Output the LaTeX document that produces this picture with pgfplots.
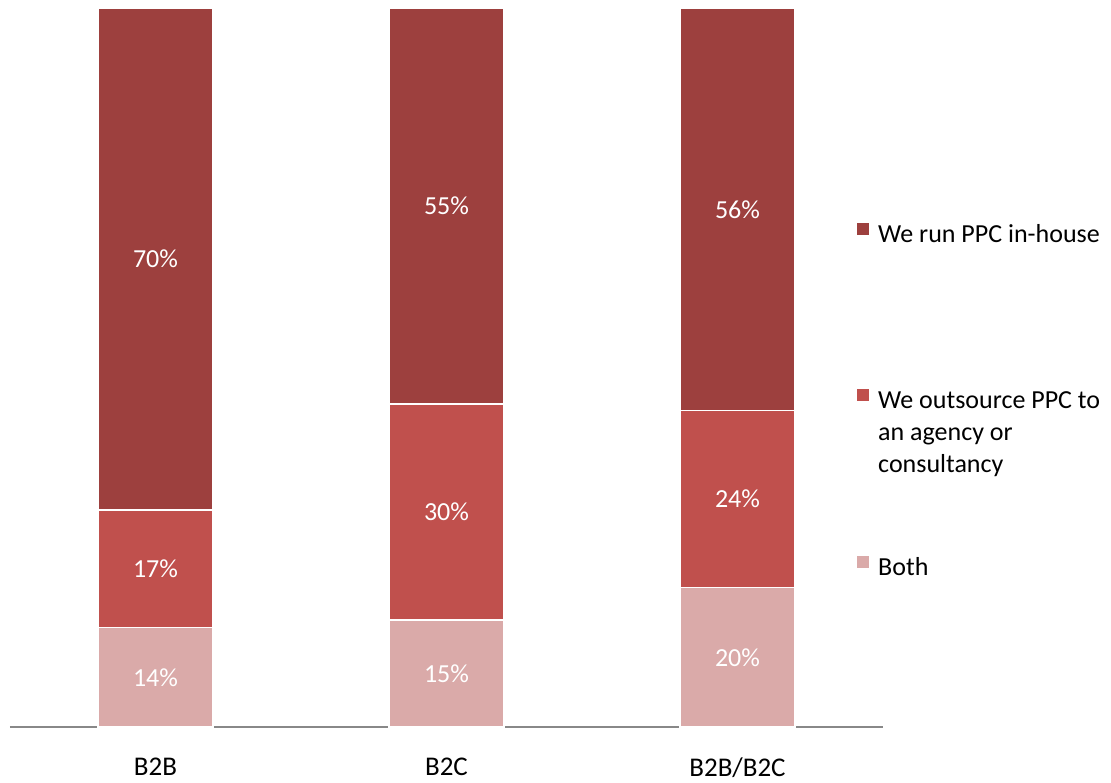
\documentclass[border=0pt]{standalone}
\usepackage{pgfplots}
\pgfplotsset{compat=1.18}
\usepackage{pgfplotstable}
\usepackage{fontspec}
\setmainfont{Carlito}

\definecolor{inhouse}{HTML}{9D403E}
\definecolor{outsrc}{HTML}{C0504D}
\definecolor{both}{HTML}{DAAAA9}
\definecolor{axisgray}{HTML}{888888}

% segment heights (share of the bar), printed labels, middle of each segment
\pgfplotstableread{
x both out inh lboth lout linh mboth mout minh
0 13.8 16.4 69.8 14 17 70 6.9  22.0 65.1
1 14.9 30.0 55.1 15 30 55 7.45 29.9 72.45
2 19.4 24.6 56.0 20 24 56 9.7  31.7 72.0
}\ppc

\begin{document}
\begin{tikzpicture}[font=\fontsize{13}{16}\selectfont]
\pgfplotsset{
    base/.style={
        scale only axis,
        width=436.5pt, height=359.5pt,
        xmin=-0.5, xmax=2.5,
        ymin=0, ymax=100,
    },
}
\begin{axis}[
    base,
    ybar stacked,
    bar width=57.5pt,
    axis x line=bottom,
    axis y line=none,
    x axis line style={draw=axisgray, line width=0.8pt, -},
    xtick=data,
    xticklabels={B2B, B2C, B2B/B2C},
    major tick length=0pt,
    xticklabel style={yshift=-12pt, font=\fontsize{13.5}{16}\selectfont},
    ytick=\empty,
    reverse legend,
    legend cell align=left,
    legend style={at={(0.97,0.705)}, anchor=north west, draw=none, fill=none,
        inner sep=0pt, row sep=69pt, column sep=2.5pt},
    legend image code/.code={\fill[#1,draw=none] (0pt,0pt) rectangle (6pt,6pt);},
]
\addplot[fill=both, draw=white, line width=0.7pt] table[x=x, y=both] {\ppc};
\addplot[fill=outsrc, draw=white, line width=0.7pt] table[x=x, y=out] {\ppc};
\addplot[fill=inhouse, draw=white, line width=0.7pt] table[x=x, y=inh] {\ppc};
\legend{
    Both,
    {\parbox[t]{120pt}{We outsource PPC to\\an agency or\\consultancy}},
    We run PPC in-house
}
\end{axis}
\begin{axis}[
    base,
    hide axis,
    point meta=explicit symbolic,
    nodes near coords={\pgfplotspointmeta\%},
    every node near coord/.append style={white, anchor=center},
]
\addplot[draw=none, mark=none] table[x=x, y=mboth, meta=lboth] {\ppc};
\addplot[draw=none, mark=none] table[x=x, y=mout, meta=lout] {\ppc};
\addplot[draw=none, mark=none] table[x=x, y=minh, meta=linh] {\ppc};
\end{axis}
\pgfresetboundingbox
\useasboundingbox (-5pt,-27.5pt) rectangle (550.5pt,363.5pt);
\end{tikzpicture}
\end{document}
